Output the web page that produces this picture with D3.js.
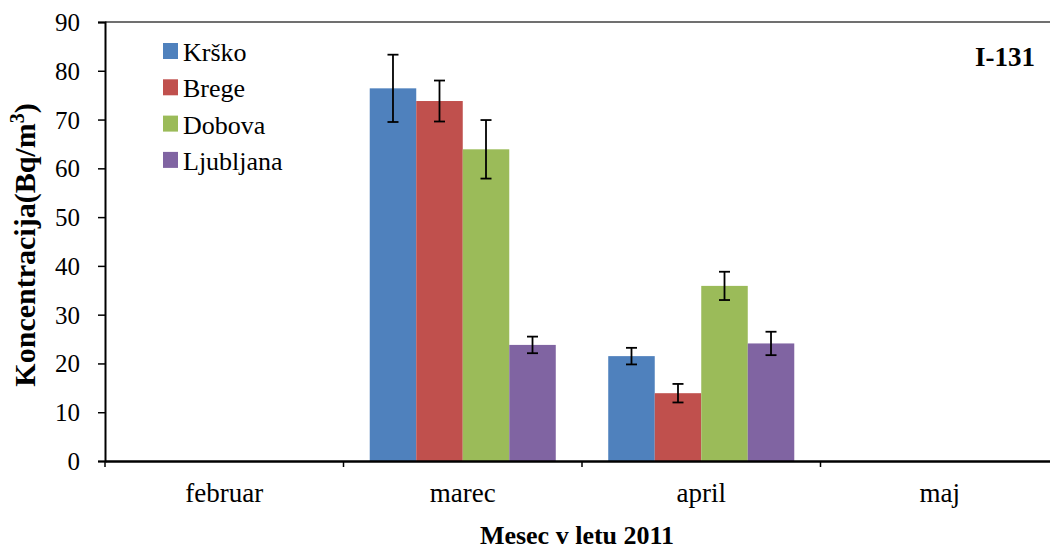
<!DOCTYPE html>
<html><head><meta charset="utf-8">
<script src="https://cdn.jsdelivr.net/npm/d3@7"></script>
<style>body{margin:0;background:#fff}svg{display:block;font-family:"Liberation Serif","Times New Roman",serif}</style>
</head><body>
<svg id="c" width="1050" height="551"></svg>
<script>
const months = ["februar","marec","april","maj"];
const stations = ["Krško","Brege","Dobova","Ljubljana"];
const colors = ["#4F81BD","#C0504D","#9BBB59","#8064A2"];
const valKrsko = [null,76.4,21.5,null];
const valBrege = [null,73.8,13.9,null];
const valDobova = [null,63.9,35.9,null];
const valLjubljana = [null,23.8,24.1,null];
const errKrsko = [null,6.9,1.7,null];
const errBrege = [null,4.2,1.9,null];
const errDobova = [null,6.0,2.9,null];
const errLjubljana = [null,1.7,2.4,null];
const yTicks = [0,10,20,30,40,50,60,70,80,90];

const values = [valKrsko,valBrege,valDobova,valLjubljana];
const errs = [errKrsko,errBrege,errDobova,errLjubljana];

const svg = d3.select("#c");
const L=105, T=22, B=461, R=105+954;
const x = d3.scaleBand().domain(months).range([L,R]).padding(0);
const bw = x.bandwidth();
const xs = d3.scaleBand().domain(stations).range([bw*0.11, bw*0.89]).padding(0);
const y = d3.scaleLinear().domain([0,90]).range([B,T]);

// top border
svg.append("line").attr("x1",L).attr("x2",R).attr("y1",T).attr("y2",T).attr("stroke","#404040").attr("stroke-width",1.5);

// bars
const data=[];
months.forEach((m,i)=>stations.forEach((s,j)=>{ if(values[j][i]!=null) data.push({m,s,j,v:values[j][i],e:errs[j][i]}); }));
const g = svg.append("g");
g.selectAll("rect").data(data).join("rect")
 .attr("x",d=>x(d.m)+xs(d.s)).attr("width",xs.bandwidth())
 .attr("y",d=>y(d.v)).attr("height",d=>B-y(d.v))
 .attr("fill",d=>colors[d.j]);
// error bars
const eg = svg.append("g").attr("stroke","#000").attr("stroke-width",1.8);
data.forEach(d=>{
  const cx = x(d.m)+xs(d.s)+xs.bandwidth()/2;
  eg.append("line").attr("x1",cx).attr("x2",cx).attr("y1",y(d.v+d.e)).attr("y2",y(d.v-d.e));
  [d.v+d.e,d.v-d.e].forEach(v=>eg.append("line").attr("x1",cx-5.5).attr("x2",cx+5.5).attr("y1",y(v)).attr("y2",y(v)));
});

// y axis
const ya = svg.append("g").attr("transform",`translate(${L},0)`)
 .call(d3.axisLeft(y).tickValues(yTicks).tickSize(7).tickPadding(18).tickFormat(d3.format("d")));
ya.select(".domain").attr("stroke","#000").attr("stroke-width",2);
ya.selectAll(".tick line").attr("stroke","#000").attr("stroke-width",1.5);
ya.selectAll("text").attr("font-size",25).attr("fill","#000").attr("font-family","Liberation Serif").attr("dy","0.34em");

// x axis
const xa = svg.append("g").attr("transform",`translate(0,${B})`)
 .call(d3.axisBottom(x).tickSize(0).tickPadding(22));
xa.select(".domain").attr("stroke","#000").attr("stroke-width",2.5);
xa.selectAll("text").attr("font-size",27).attr("fill","#000").attr("font-family","Liberation Serif");
svg.append("g").selectAll("line").data(months.concat(["_end"])).join("line")
 .attr("x1",(d,i)=>L+i*bw).attr("x2",(d,i)=>L+i*bw).attr("y1",B).attr("y2",B+6)
 .attr("stroke","#000").attr("stroke-width",1.5);

// legend
const lg = svg.append("g");
stations.forEach((s,i)=>{
  const yy = 43+i*36.3;
  lg.append("rect").attr("x",163).attr("y",yy).attr("width",15).attr("height",16).attr("fill",colors[i]);
  lg.append("text").attr("x",183).attr("y",yy+18).attr("font-size",26).attr("font-family","Liberation Serif").text(s);
});

// labels
svg.append("text").attr("x",1005).attr("y",66).attr("text-anchor","middle").attr("font-weight","bold").attr("font-size",27).text("I-131");
svg.append("text").attr("x",577).attr("y",544).attr("text-anchor","middle").attr("font-weight","bold").attr("font-size",26).text("Mesec v letu 2011");
const yt = svg.append("text").attr("transform","translate(35,245) rotate(-90)").attr("text-anchor","middle").attr("font-weight","bold").attr("font-size",30);
yt.append("tspan").text("Koncentracija(Bq/m");
yt.append("tspan").attr("font-size",20).attr("dy",-11).text("3");
yt.append("tspan").attr("dy",11).text(")");
</script>
</body></html>
